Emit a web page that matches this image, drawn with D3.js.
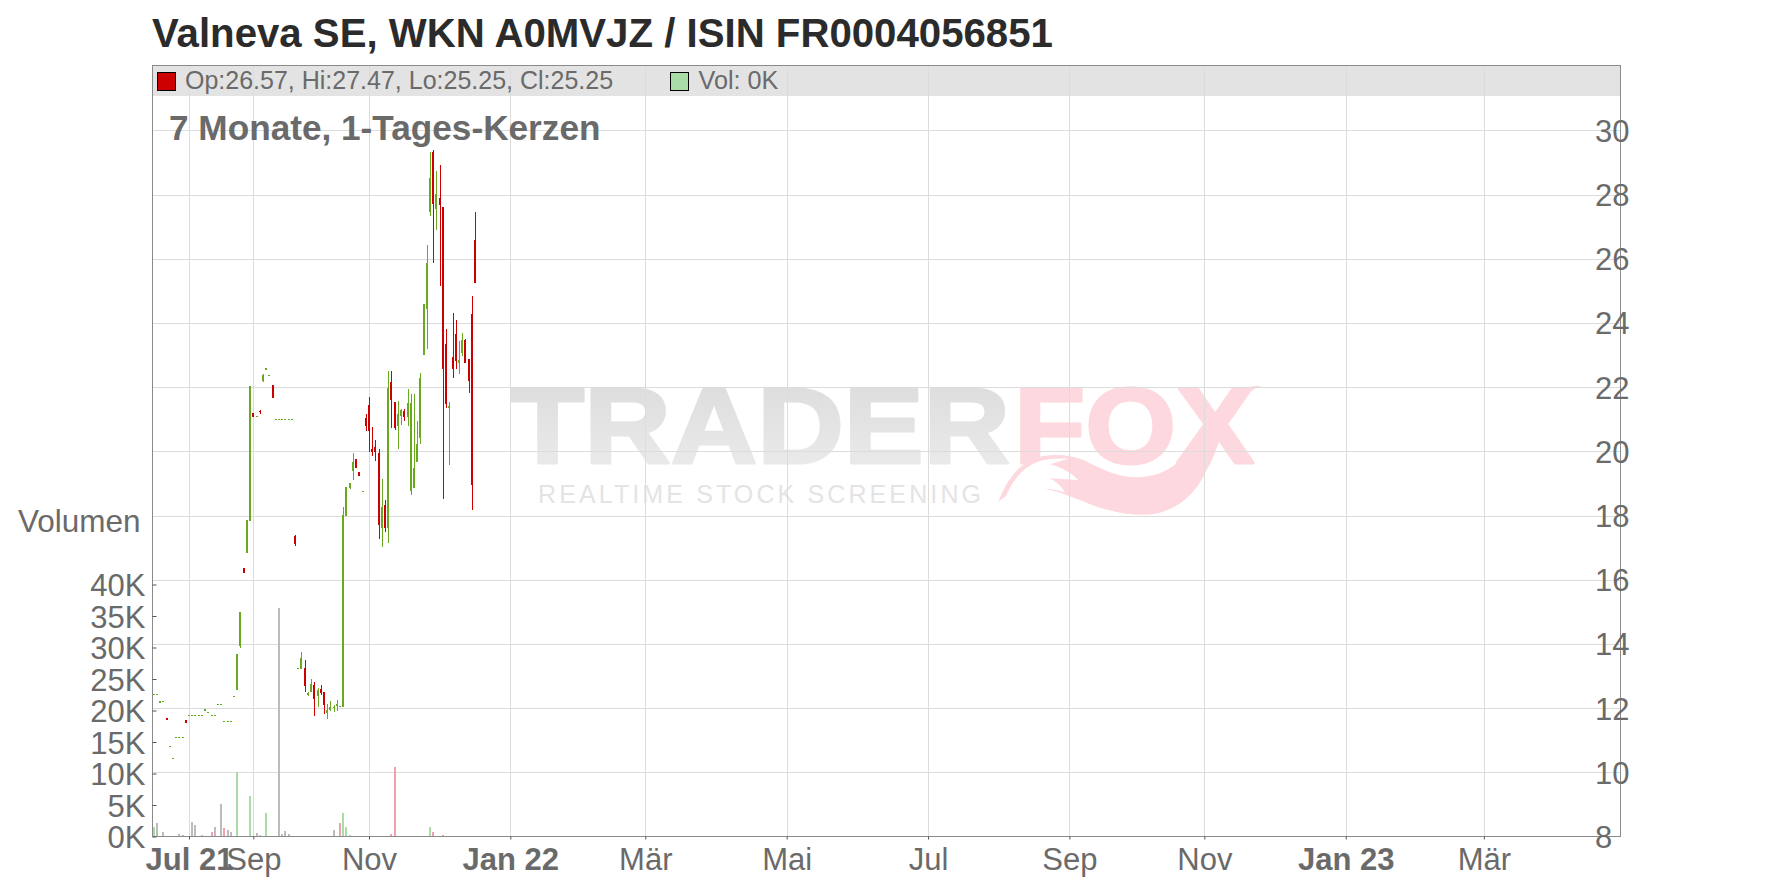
<!DOCTYPE html>
<html>
<head>
<meta charset="utf-8">
<script src="https://cdn.jsdelivr.net/npm/d3@7/dist/d3.min.js"></script>
<style>
html,body{margin:0;padding:0;background:#fff;}
svg{display:block;font-family:"Liberation Sans",Arial,sans-serif;}
</style>
</head>
<body>
<svg id="chart" width="1776" height="888"></svg>
<script>
const titleText = "Valneva SE, WKN A0MVJZ / ISIN FR0004056851";
const subtitleText = "7 Monate, 1-Tages-Kerzen";
const legendOhlc = "Op:26.57, Hi:27.47, Lo:25.25, Cl:25.25";
const legendVol = "Vol: 0K";

const opens = [12.43,12.43,12.16,12.21,11.69,10.81,10.44,11.09,11.09,11.09,11.63,11.78,11.78,11.78,11.78,11.78,11.91,11.87,11.78,11.78,12.12,12.12,11.59,11.59,11.59,12.37,12.56,13.93,16.36,16.83,17.83,21.19,21.09,21.26,22.19,22.53,22.37,22.07,21,21,21,21,21,21,17.36,13.24,13.22,13.25,12.41,12.50,12.72,12.38,12.60,12.50,11.85,11.94,12.00,12.07,12.06,12.03,17.98,18.86,19.39,19.76,19.36,18.75,21.04,21.44,20.07,20.13,19.95,17.61,18.33,17.61,22.16,21.54,20.79,21.10,21.26,21.07,18.76,18.86,19.67,20.41,23.00,24.43,27.45,29.32,27.55,27.89,27.61,23.34,21.35,22.94,23.65,22.75,23.06,23.47,22.88,24.28,26.57];
const highs = [12.43,12.43,12.22,12.21,11.69,10.81,10.44,11.09,11.09,11.09,11.63,11.78,11.78,11.78,11.78,11.78,11.97,11.87,11.78,11.78,12.12,12.12,11.59,11.59,11.59,12.37,13.69,14.99,16.36,17.86,22.03,21.19,21.09,21.29,22.41,22.60,22.37,22.07,21,21,21,21,21,21,17.39,13.24,13.75,13.50,12.50,12.91,12.81,12.63,12.72,12.50,12.13,12.22,12.10,12.25,12.06,18.26,18.89,19.01,19.95,19.76,19.36,18.75,21.16,21.69,20.76,20.35,20.07,19.14,18.48,22.50,22.50,21.54,21.57,21.32,21.32,21.94,21.79,21.79,20.94,22.44,24.59,26.43,29.32,29.39,28.73,28.92,27.61,23.81,21.54,24.31,24.09,23.44,23.69,23.50,22.88,24.84,27.47];
const lows = [12.43,12.43,12.16,12.21,11.63,10.81,10.44,11.09,11.09,11.09,11.54,11.78,11.78,11.78,11.78,11.78,11.91,11.87,11.78,11.78,12.12,12.12,11.59,11.59,11.59,12.37,12.56,13.87,16.21,16.83,17.83,21.07,21.09,21.16,22.16,22.53,22.37,21.66,21,21,21,21,21,21,17.05,13.24,13.22,12.50,12.38,12.50,11.75,12.03,12.41,11.82,11.66,11.91,11.88,11.91,12.06,12.03,17.98,18.83,19.11,19.48,19.23,18.75,20.63,19.98,19.85,19.70,17.27,17.02,17.49,17.14,20.73,20.66,20.07,20.82,20.94,20.79,18.64,18.86,19.67,20.23,23.00,23.19,27.33,25.87,26.89,25.15,18.51,21.35,19.57,22.28,22.56,22.41,22.97,22.75,21.82,18.17,25.25];
const closes = [12.43,12.43,12.22,12.21,11.63,10.81,10.44,11.09,11.09,11.09,11.54,11.78,11.78,11.78,11.78,11.78,11.97,11.87,11.78,11.78,12.12,12.12,11.59,11.59,11.59,12.37,13.69,14.99,16.21,17.86,22.03,21.07,21.09,21.21,22.38,22.60,22.37,21.66,21,21,21,21,21,21,17.11,13.24,13.56,12.69,12.47,12.75,12.28,12.56,12.47,12.10,11.94,12.03,12.03,12.13,12.06,18.02,18.89,19.01,19.67,19.48,19.23,18.75,20.79,20.63,19.98,19.98,17.70,18.26,17.61,21.97,21.60,20.73,21.16,21.29,21.07,21.50,21.50,19.48,20.23,22.28,24.59,25.87,28.51,27.70,28.02,27.67,22.56,21.47,21.41,22.56,22.81,22.84,23.47,22.75,22.19,18.95,25.25];
// volume in thousands, one per session
const volumes = [1.48,2.12,0,0.69,0,0,0,0,0.37,0.21,0,0,2.28,1.8,0,0.21,0,0,0.69,1.48,0,5.13,1.32,1.0,0.69,0,10.2,0,0,0,6.4,0,0.53,0.21,0,3.7,0,0,0,36.2,0.37,0.85,0.37,0,0,0,0,0,0,0,0,0,0,0,0,0,1.0,0,2.12,3.7,1.48,0.21,0,0,0,0,0,0,0,0,0,0,0,0,0.37,11.0,0,0,0,0,0,0,0,0,0,0,1.48,0.69,0,0,0.21,0,0,0,0,0,0,0,0,0,0];
// 1 up, -1 down, 0 unchanged
const volumeDirs = [1,0,0,0,0,0,0,0,0,0,0,0,0,0,0,0,0,0,-1,0,0,0,-1,0,0,0,1,0,0,0,1,0,0,1,0,1,0,0,0,0,0,0,0,0,0,0,0,0,0,0,0,0,0,0,0,0,0,0,-1,1,1,1,0,0,0,0,0,0,0,0,0,0,0,0,-1,-1,0,0,0,0,0,0,0,0,0,0,1,-1,0,0,-1,0,0,0,0,0,0,0,0,0,0];

const monthTicks = [11,31,67,111,153,197,241,285,327,371,414];
const monthLabels = ["Jul 21","Sep","Nov","Jan 22","Mär","Mai","Jul","Sep","Nov","Jan 23","Mär"];
const boldLabels = ["Jul 21","Jan 22","Jan 23"];
const priceTicks = [8,10,12,14,16,18,20,22,24,26,28,30];
const volumeTicks = [0,5,10,15,20,25,30,35,40];

const W = 1776, H = 888;
const L = 152.5, R = 1620.5, T = 65.5, B = 836.5;
const TXT = "#6a6a6a";
const RED = "#cc0000", GREEN = "#68a91f";
const VCOL = {"1":"#aadca7","-1":"#eda2ac","0":"#bcbcbc"};
const AXIS_FONT = 31;

const x = d3.scaleLinear().domain([0,100]).range([153.7,475]);
const y = d3.scaleLinear().domain([8,30]).range([836.5,130.3]);
const v = d3.scaleLinear().domain([0,40]).range([836.5,584.5]);

const svg = d3.select("#chart");
const defs = svg.append("defs");
const gr = defs.append("linearGradient").attr("id","wmG").attr("x1",0).attr("y1",0).attr("x2",0).attr("y2",1);
gr.append("stop").attr("offset","0%").attr("stop-color","#dadada");
gr.append("stop").attr("offset","100%").attr("stop-color","#ededed");

// title
svg.append("text").attr("x",152).attr("y",47).attr("font-size",40.2).attr("font-weight","bold")
  .attr("fill","#2b2b2b").text(titleText);

// legend band
svg.append("rect").attr("x",L).attr("y",T).attr("width",R-L).attr("height",30.5).attr("fill","#e3e3e3");

// watermark
const wm = svg.append("g");
function squeezed(txt,x0,x1,base,size,fill){
  wm.append("text").attr("x",x0).attr("y",base).attr("font-size",size).attr("font-weight","bold")
    .attr("textLength",x1-x0).attr("lengthAdjust","spacingAndGlyphs")
    .attr("fill",fill).attr("stroke",fill).attr("stroke-width",3).attr("stroke-linejoin","round").text(txt);
}
squeezed("TRADER",511,1010,463,108,"url(#wmG)");
squeezed("FOX",1014,1254,463,108,"#fdd9df");
wm.append("text").attr("x",538).attr("y",503).attr("font-size",25).attr("fill","#e4e4e4")
  .attr("textLength",443).attr("lengthAdjust","spacing").text("REALTIME STOCK SCREENING");
const fox = wm.append("g").attr("transform","translate(990,380) scale(0.3333)");
fox.append("path").attr("fill","#fdd9df")
  .attr("d","M25,365 C50,300 90,240 160,228 C200,222 240,224 280,240 C320,258 370,290 440,292 C520,292 570,250 600,205 C640,140 680,80 730,40 C755,22 790,16 815,18 C780,28 740,60 710,120 C690,170 680,220 650,270 C620,340 570,380 510,398 C450,412 390,402 320,380 C260,358 190,325 130,322 C90,322 55,342 25,365 Z");
fox.append("path").attr("fill","#fff")
  .attr("d","M45,356 C62,310 100,245 180,237 C200,235 220,235 235,236 L180,253 C215,262 245,280 265,300 L178,295 C200,305 215,320 225,337 C160,318 100,325 45,356 Z");

// grid
const grid = svg.append("g").attr("stroke","#dcdcdc").attr("stroke-width",1).attr("shape-rendering","crispEdges");
grid.selectAll("line.h").data(priceTicks.slice(1)).join("line")
  .attr("x1",L).attr("x2",R).attr("y1",d=>Math.round(y(d))+0.5).attr("y2",d=>Math.round(y(d))+0.5);
grid.selectAll("line.v").data(monthTicks).join("line")
  .attr("y1",T).attr("y2",B).attr("x1",d=>Math.round(x(d))+0.5).attr("x2",d=>Math.round(x(d))+0.5);

// volume bars
const idx = d3.range(opens.length);
svg.append("g").attr("shape-rendering","crispEdges").selectAll("rect")
  .data(idx.filter(i=>volumes[i]>0)).join("rect")
  .attr("x",i=>Math.round(x(i)-1)).attr("width",2)
  .attr("y",i=>Math.round(v(volumes[i]))).attr("height",i=>Math.max(1,B-Math.round(v(volumes[i]))))
  .attr("fill",i=>VCOL[volumeDirs[i]]);

// candles
const cg = svg.append("g").attr("shape-rendering","crispEdges");
const col = i=>closes[i]<opens[i]?RED:GREEN;
cg.selectAll("rect.w").data(idx.filter(i=>highs[i]>lows[i])).join("rect")
  .attr("x",i=>Math.round(x(i)-1)+1).attr("width",1)
  .attr("y",i=>Math.round(y(highs[i]))).attr("height",i=>Math.max(1,Math.round(y(lows[i]))-Math.round(y(highs[i]))))
  .attr("fill",col);
cg.selectAll("rect.b").data(idx).join("rect")
  .attr("x",i=>Math.round(x(i)-1)).attr("width",2)
  .attr("y",i=>Math.round(y(Math.max(opens[i],closes[i]))))
  .attr("height",i=>Math.max(1,Math.round(y(Math.min(opens[i],closes[i])))-Math.round(y(Math.max(opens[i],closes[i])))))
  .attr("fill",col);

// frame
svg.append("rect").attr("x",L).attr("y",T).attr("width",R-L).attr("height",B-T)
  .attr("fill","none").attr("stroke","#8a8a8a").attr("stroke-width",1);

// bottom axis
const xAxis = d3.axisBottom(x).tickValues(monthTicks).tickFormat((d,i)=>monthLabels[i]).tickSizeOuter(0).tickSize(3).tickPadding(18);
const gx = svg.append("g").attr("transform",`translate(0,${B})`).call(xAxis);
gx.select(".domain").remove();
gx.selectAll(".tick line").attr("stroke","#555");
gx.selectAll(".tick text").attr("font-size",AXIS_FONT).attr("font-family","Liberation Sans").attr("fill",TXT).attr("dy",0).attr("y",33)
  .attr("font-weight",(d,i)=>boldLabels.includes(monthLabels[i])?"bold":"normal");

// price axis labels
const gy = svg.append("g").attr("transform","translate(1595,0)");
const yAxis = d3.axisRight(y).tickValues(priceTicks).tickFormat(d3.format("d")).tickSize(0).tickPadding(0);
gy.call(yAxis);
gy.select(".domain").remove();
gy.selectAll(".tick text").attr("font-size",AXIS_FONT).attr("font-family","Liberation Sans").attr("fill",TXT).attr("dy",0).attr("y",11);

// volume axis
const gv = svg.append("g").attr("transform",`translate(${L},0)`);
const vAxis = d3.axisRight(v).tickValues(volumeTicks).tickFormat(d=>d+"K").tickSize(4);
gv.call(vAxis);
gv.select(".domain").remove();
gv.selectAll(".tick line").attr("stroke","#555");
gv.selectAll(".tick text").attr("font-size",AXIS_FONT).attr("font-family","Liberation Sans").attr("fill",TXT)
  .attr("text-anchor","end").attr("x",-7).attr("dy",0).attr("y",11);
svg.append("text").attr("x",140.5).attr("y",532).attr("text-anchor","end").attr("font-size",AXIS_FONT+0.5).attr("fill",TXT).text("Volumen");

// legend
svg.append("rect").attr("x",157.5).attr("y",72.5).attr("width",18).attr("height",18).attr("fill",RED).attr("stroke","#000");
svg.append("text").attr("x",185).attr("y",89).attr("font-size",25).attr("fill",TXT).text(legendOhlc);
svg.append("rect").attr("x",670.5).attr("y",72.5).attr("width",18).attr("height",18).attr("fill","#aadca7").attr("stroke","#000");
svg.append("text").attr("x",698.5).attr("y",89).attr("font-size",25.2).attr("fill",TXT).text(legendVol);

// period label
svg.append("text").attr("x",169).attr("y",140).attr("font-size",35.2).attr("font-weight","bold").attr("fill",TXT).text(subtitleText);
</script>
</body>
</html>
